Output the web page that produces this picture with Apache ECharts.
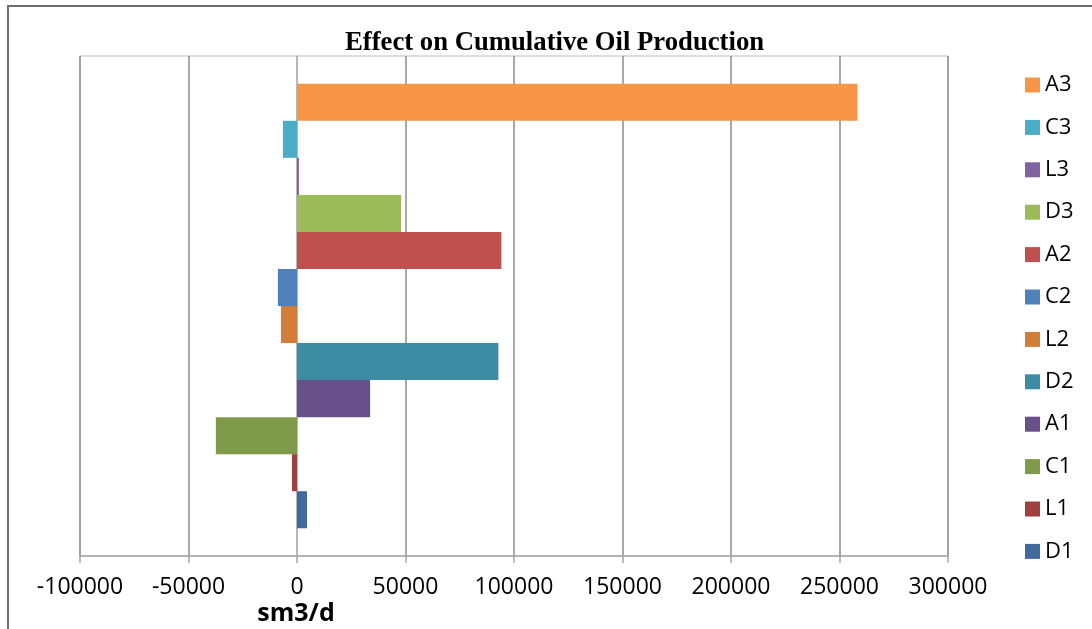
<!DOCTYPE html>
<html>
<head>
<meta charset="utf-8">
<style>
  html, body { margin: 0; padding: 0; background: #fff; }
  #chart { width: 1092px; height: 629px; }
</style>
<script src="https://cdn.jsdelivr.net/npm/echarts@6/dist/echarts.min.js"></script>
</head>
<body>
<div id="chart"></div>
<script>
// series listed top to bottom, as drawn in the plot and the legend
const seriesNames = ['A3', 'C3', 'L3', 'D3', 'A2', 'C2', 'L2', 'D2', 'A1', 'C1', 'L1', 'D1']
const seriesValues = [258300, -6500, 900, 48000, 94200, -8800, -7400, 92800, 33700, -37400, -2300, 4600]
const seriesColors = ['#f79646', '#4bacc6', '#8064a2', '#9bbb59', '#c0504d', '#4f81bd',
  '#d07e38', '#3c8ca3', '#68508a', '#7f9a48', '#a0403e', '#3f6a9e']
const xMin = -100000
const xMax = 300000
const xStep = 50000

const el = document.getElementById('chart')
const chart = echarts.init(el, null, { renderer: 'canvas' })

const labelFont = '"Open Sans", "Liberation Sans", sans-serif'

const series = seriesNames.map((name, i) => ({
  name,
  type: 'bar',
  data: [seriesValues[i]],
  itemStyle: { color: seriesColors[i] },
  barGap: '0%',
  barCategoryGap: '11.1%'
}))

const option = {
  animation: false,
  backgroundColor: '#fff',
  color: seriesColors,
  title: {
    text: 'Effect on Cumulative Oil Production',
    left: 345,
    top: 30,
    padding: 0,
    textStyle: {
      fontFamily: '"Liberation Serif", "Times New Roman", serif',
      fontWeight: 'bold',
      fontSize: 26.7,
      color: '#000'
    }
  },
  legend: {
    orient: 'vertical',
    left: 1025,
    top: 74,
    padding: 0,
    itemWidth: 15,
    itemHeight: 15,
    itemGap: 20.4,
    icon: 'rect',
    data: seriesNames,
    textStyle: {
      fontFamily: labelFont,
      fontSize: 22,
      lineHeight: 22,
      color: '#000'
    }
  },
  grid: {
    left: 80,
    right: 144,
    top: 56,
    bottom: 73,
    show: true,
    borderColor: '#bdbdbd',
    borderWidth: 1,
    containLabel: false
  },
  xAxis: {
    type: 'value',
    min: xMin,
    max: xMax,
    interval: xStep,
    axisLine: { show: true, lineStyle: { color: '#a6a6a6', width: 1.5 } },
    axisTick: { show: true, length: 7, lineStyle: { color: '#a6a6a6', width: 1.5 } },
    splitLine: { show: true, lineStyle: { color: '#8c8c8c', width: 1.5 } },
    axisLabel: {
      fontFamily: labelFont,
      fontSize: 23,
      color: '#000',
      margin: 20,
      formatter: (v) => String(v)
    }
  },
  yAxis: {
    type: 'category',
    data: [''],
    axisLine: { show: true, onZero: true, lineStyle: { color: '#bdbdbd', width: 1.5 } },
    axisTick: { show: false },
    axisLabel: { show: false },
    splitLine: { show: false }
  },
  graphic: [
    {
      type: 'rect',
      silent: true,
      shape: { x: 8, y: 6, width: 1200, height: 800 },
      style: { fill: null, stroke: '#6e6e6e', lineWidth: 2 }
    },
    {
      type: 'text',
      silent: true,
      style: {
        x: 296,
        y: 614,
        text: 'sm3/d',
        align: 'center',
        verticalAlign: 'middle',
        fontFamily: labelFont,
        fontWeight: 'bold',
        fontSize: 25,
        fill: '#000'
      }
    }
  ],
  series
}

chart.setOption(option)
window.addEventListener('resize', () => {
  chart.resize()
})
</script>
</body>
</html>
